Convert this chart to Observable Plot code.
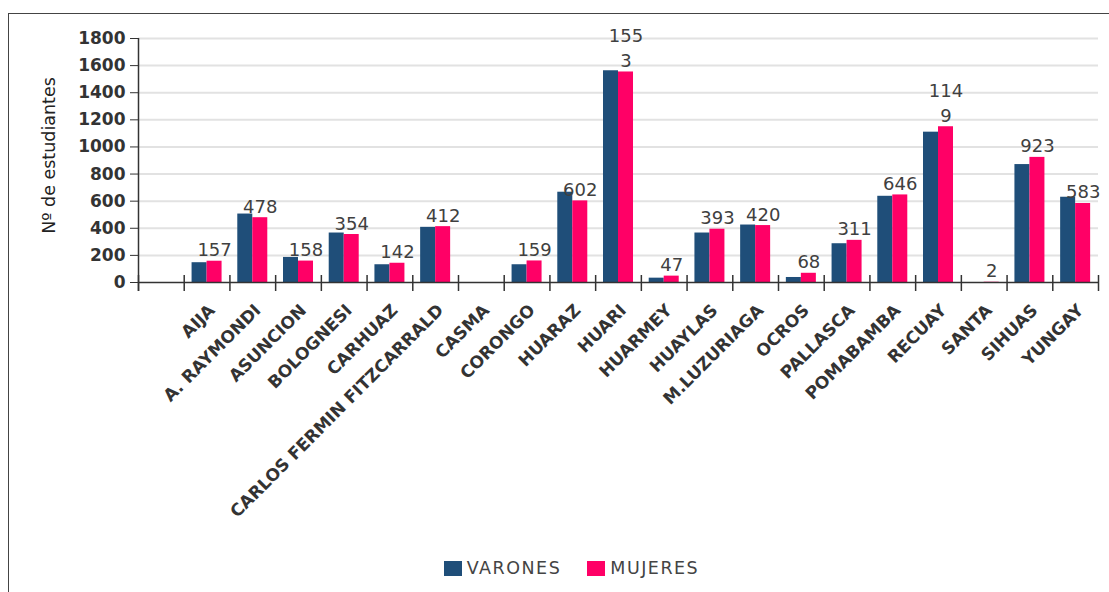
<!DOCTYPE html>
<html>
<head>
<meta charset="utf-8">
<script src="https://cdn.jsdelivr.net/npm/d3@7"></script>
<script src="https://cdn.jsdelivr.net/npm/@observablehq/plot@0.6"></script>
<style>
  html, body { margin: 0; padding: 0; background: #fff; }
  body { width: 1109px; height: 592px; overflow: hidden; position: relative; font-family: "DejaVu Sans", sans-serif; }
  #box { position: absolute; left: 8px; top: 13px; width: 1110px; height: 590px; border-top: 1.5px solid #444; border-left: 1.5px solid #444; pointer-events: none; }
  #chart svg { display: block; }
  g[aria-label="y-axis tick label"] text { font-weight: bold; }
  g[aria-label="x-axis tick label"] text { font-weight: bold; }
  #legend { display: flex; justify-content: center; align-items: center; padding-left: 34px; margin-top: 20px; height: 16px; font-size: 17.5px; letter-spacing: 1.5px; color: #444; }
  #legend .item { display: flex; align-items: center; margin: 0 13px; }
  #legend .sw { width: 18px; height: 15px; margin-right: 5px; }
</style>
</head>
<body>
<div id="chart"></div>
<div id="legend"></div>
<div id="box"></div>
<script>
// ---- data ----
const provinces = ["AIJA", "A. RAYMONDI", "ASUNCION", "BOLOGNESI", "CARHUAZ", "CARLOS FERMIN FITZCARRALD", "CASMA", "CORONGO", "HUARAZ", "HUARI", "HUARMEY", "HUAYLAS", "M.LUZURIAGA", "OCROS", "PALLASCA", "POMABAMBA", "RECUAY", "SANTA", "SIHUAS", "YUNGAY"];
const varones = [146, 505, 185, 365, 131, 407, null, 131, 666, 1562, 32, 365, 424, 37, 286, 636, 1109, 0, 870, 629];
const mujeres = [157, 478, 158, 354, 142, 412, null, 159, 602, 1553, 47, 393, 420, 68, 311, 646, 1149, 2, 923, 583];
const seriesNames = ["VARONES", "MUJERES"];
const seriesColors = ["#1f4e79", "#ff0066"];
const yTicks = [0, 200, 400, 600, 800, 1000, 1200, 1400, 1600, 1800];

// ---- layout ----
const W = 1109, H = 540;
const marginLeft = 138, marginRight = 11, marginTop = 38, marginBottom = H - 38 - 244;
const domain = ["", ...provinces]; // leading empty category, as in the source chart
const bw = (W - marginLeft - marginRight) / domain.length;
const barW = 15;
const gap = (bw - 2 * barW) / 2;

const rows = provinces.map((p, i) => ({province: p, varones: varones[i], mujeres: mujeres[i]}));
const fmt = v => { const s = String(v); return s.length > 3 ? s.slice(0, 3) + "\n" + s.slice(3) : s; };

const chart = Plot.plot({
  width: W, height: H,
  marginLeft, marginRight, marginTop, marginBottom,
  style: {fontFamily: "DejaVu Sans, sans-serif", background: "white", color: "#333", overflow: "visible"},
  x: {domain, padding: 0, round: false, label: null},
  y: {domain: [0, 1800], label: null},
  marks: [
    Plot.gridY(yTicks.filter(v => v > 0), {stroke: "#e2e2e2", strokeOpacity: 1, strokeWidth: 2}),
    Plot.barY(rows.filter(d => d.varones != null), {x: "province", y: "varones", fill: seriesColors[0], insetLeft: gap, insetRight: bw - gap - barW}),
    Plot.barY(rows.filter(d => d.mujeres != null), {x: "province", y: "mujeres", fill: seriesColors[1], insetLeft: gap + barW, insetRight: gap}),
    Plot.ruleY([0], {stroke: "#333", strokeWidth: 1.5}),
    // category boundary tick marks
    Plot.ruleX(domain, {x: d => d, dx: -bw / 2, y1: 0, y2: 0, insetTop: -7, insetBottom: -9, stroke: "#333", strokeWidth: 1.5}),
    Plot.ruleX([domain[domain.length - 1]], {x: d => d, dx: bw / 2, y1: 0, y2: 0, insetTop: -7, insetBottom: -9, stroke: "#333", strokeWidth: 1.5}),
    // y axis line
    Plot.ruleX([domain[0]], {x: d => d, dx: -bw / 2, y1: 1800, y2: 0, insetBottom: -9, stroke: "#333", strokeWidth: 1.5}),
    Plot.axisY(yTicks, {tickSize: 8, tickPadding: 5, tickFormat: d => String(d), label: null, fontSize: 17, fontWeight: "bold", stroke: "#333"}),
    Plot.axisX(provinces, {tickSize: 0, tickPadding: 25, tickRotate: -45, dx: 5, label: null, fontSize: 17, fontWeight: "bold"}),
    Plot.text(["Nº de estudiantes"], {frameAnchor: "left", textAnchor: "middle", rotate: -90, dx: -89, dy: -5, fontSize: 17.5, fill: "#222"}),
    Plot.text(rows.filter(d => d.mujeres != null), {x: "province", y: "mujeres", text: d => fmt(d.mujeres), dx: gap + 1.5 * barW - bw / 2, dy: -5, lineAnchor: "bottom", lineHeight: 1.4, fontSize: 18, fill: "#404040"})
  ]
});
document.getElementById("chart").appendChild(chart);

const legend = document.getElementById("legend");
seriesNames.forEach((name, i) => {
  const item = document.createElement("div");
  item.className = "item";
  const sw = document.createElement("span");
  sw.className = "sw";
  sw.style.background = seriesColors[i];
  const t = document.createElement("span");
  t.textContent = name;
  item.appendChild(sw);
  item.appendChild(t);
  legend.appendChild(item);
});
</script>
</body>
</html>
